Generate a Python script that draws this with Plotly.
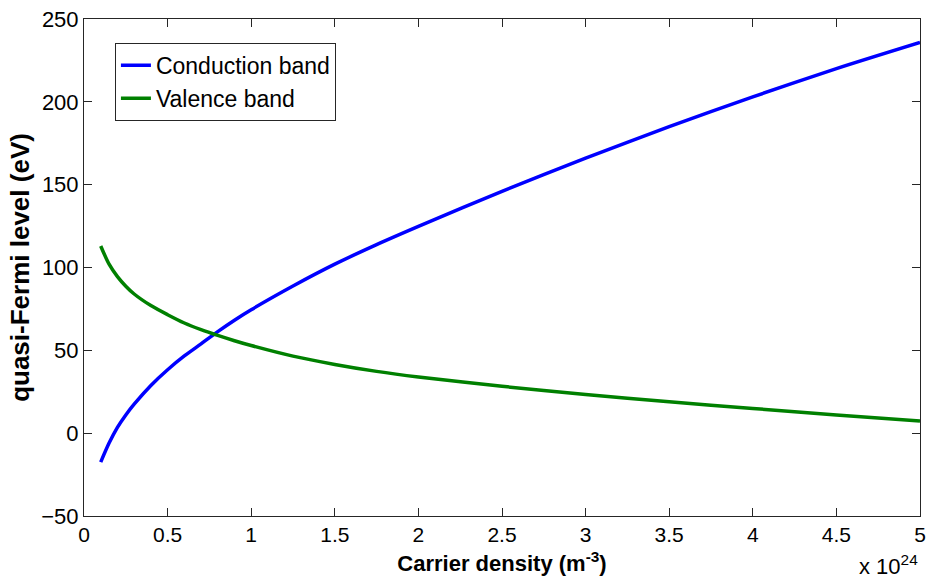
import plotly.graph_objects as go

density = [0.1, 0.15, 0.2, 0.25, 0.3, 0.4, 0.5, 0.6, 0.7, 0.8, 0.9, 1.0, 1.25, 1.5, 1.75,
           2.0, 2.5, 3.0, 3.5, 4.0, 4.5, 5.0]
conduction = [-17.5, -6, 3.5, 11.0, 17.5, 28.8, 38.3, 46.6, 53.9, 61.3, 68.2, 74.5, 88.8, 102, 113.8,
              124.8, 146, 166, 185, 203, 220, 235.8]
valence = [113, 102, 94.5, 88.7, 84, 77, 71.5, 66.5, 62.5, 59, 55.8, 52.9, 46.5, 41.5, 37.3,
           33.9, 28.3, 23.3, 18.9, 14.9, 11.0, 7.3]

x_ticks = [0, 0.5, 1, 1.5, 2, 2.5, 3, 3.5, 4, 4.5, 5]
x_labels = ["0", "0.5", "1", "1.5", "2", "2.5", "3", "3.5", "4", "4.5", "5"]
y_ticks = [-50, 0, 50, 100, 150, 200, 250]

font_main = "Liberation Sans, Arial, sans-serif"

fig = go.Figure()
fig.add_trace(go.Scatter(x=density, y=conduction, mode="lines", name="Conduction band",
                         line=dict(color="#0000FF", width=3.5, shape="spline", smoothing=0.8)))
fig.add_trace(go.Scatter(x=density, y=valence, mode="lines", name="Valence band",
                         line=dict(color="#008000", width=3.5, shape="spline", smoothing=0.8)))

axis_common = dict(showline=True, linecolor="#262626", linewidth=1, mirror="allticks",
                   ticks="inside", ticklen=8, tickcolor="#262626", showgrid=False,
                   zeroline=False)

fig.update_layout(
    width=933, height=583,
    margin=dict(l=84, r=7, t=13, b=67),
    paper_bgcolor="white", plot_bgcolor="white",
    xaxis=dict(range=[0, 5], tickvals=x_ticks, ticktext=x_labels,
               tickfont=dict(family=font_main, size=21, color="black"),
               title=dict(text="<b>Carrier density (m<sup>-3</sup>)</b>",
                          font=dict(family=font_main, size=22, color="black"), standoff=10),
               **axis_common),
    yaxis=dict(range=[-50, 250], tickvals=y_ticks,
               tickfont=dict(family=font_main, size=22, color="black"),
               title=dict(text="<b>quasi-Fermi level (eV)</b>",
                          font=dict(family=font_main, size=26, color="black"), standoff=4),
               **axis_common),
    legend=dict(x=0.037, y=0.952, xanchor="left", yanchor="top",
                bordercolor="#262626", borderwidth=1, bgcolor="white",
                font=dict(family=font_main, size=23, color="black"),
                tracegroupgap=0, itemwidth=30),
    showlegend=True,
)

fig.add_annotation(text="x 10<sup>24</sup>", xref="paper", yref="paper",
                   x=1.0, y=-0.13, xanchor="right", yanchor="bottom", showarrow=False,
                   font=dict(family=font_main, size=22, color="black"))

fig.write_html("out.html")
